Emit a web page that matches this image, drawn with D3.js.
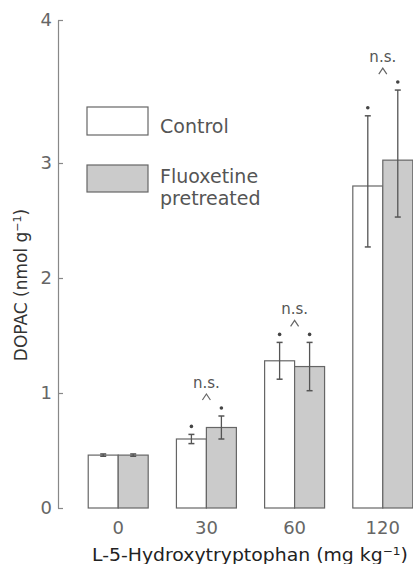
<!DOCTYPE html>
<meta charset="utf-8">
<script src="https://d3js.org/d3.v7.min.js"></script>
<style type="text/css">
  body { margin: 0; background: #fff; }
  text { font-family: "DejaVu Sans", sans-serif; fill: #555; }
</style>
<body>
<svg width="413" height="564"></svg>
<script>

    // values
    let doses = ["0", "30", "60", "120"],
        groups = ["control", "fluoxetine"],
        controlMean = [0.46, 0.60, 1.28, 2.80],
        controlSem = [0.01, 0.04, 0.16, 0.53],
        fluoxMean = [0.46, 0.70, 1.23, 3.02],
        fluoxSem = [0.01, 0.10, 0.21, 0.49],
        starred = [false, true, true, true],
        nsDoses = ["30", "60", "120"],
        yTicks = [0, 1, 2, 3, 4]

    let rows = []
    doses.forEach((d, i) => {
        rows.push({dose: d, group: 'control', mean: controlMean[i], sem: controlSem[i], star: starred[i]})
        rows.push({dose: d, group: 'fluoxetine', mean: fluoxMean[i], sem: fluoxSem[i], star: starred[i]})
    })

    let fills = {control: '#ffffff', fluoxetine: '#cbcbcb'}

    let svg = d3.select('svg')

    let x = d3.scaleBand().domain(doses).range([60, 441]).paddingInner(0.32).paddingOuter(0.32),
        xs = d3.scaleBand().domain(groups).range([0, x.bandwidth()]),
        // the printed axis is slightly stretched above 3
        y = d3.scaleLinear().domain([0, 3, 4]).range([508, 163, 20])

    let axisX = 58

    let yAxis = svg.append('g')
        .attr('transform', `translate(${axisX},0)`)
        .call(d3.axisLeft(y).tickValues(yTicks).tickSize(-5).tickSizeOuter(0).tickPadding(6).tickFormat(d3.format('d')))
    yAxis.select('.domain').attr('stroke', '#888').attr('stroke-width', 1.2)
    yAxis.selectAll('.tick line').attr('stroke', '#888').attr('stroke-width', 1.2)
    yAxis.selectAll('.tick text').style('font-size', '18px').style('fill', '#666')

    // bars
    svg.append('g').selectAll('rect').data(rows).enter().append('rect')
        .attr('x', d => x(d.dose) + xs(d.group))
        .attr('y', d => y(d.mean))
        .attr('width', xs.bandwidth())
        .attr('height', d => y(0) - y(d.mean))
        .attr('fill', d => fills[d.group])
        .attr('stroke', '#666')
        .attr('stroke-width', 1.2)

    // error bars
    let cx = d => x(d.dose) + xs(d.group) + xs.bandwidth() / 2
    let err = svg.append('g').selectAll('g').data(rows).enter().append('g')
    err.append('line')
        .attr('x1', cx).attr('x2', cx)
        .attr('y1', d => y(d.mean + d.sem)).attr('y2', d => y(d.mean - d.sem))
        .attr('stroke', '#555').attr('stroke-width', 1.3)
    err.append('line')
        .attr('x1', d => cx(d) - 3).attr('x2', d => cx(d) + 3)
        .attr('y1', d => y(d.mean + d.sem)).attr('y2', d => y(d.mean + d.sem))
        .attr('stroke', '#555').attr('stroke-width', 1.5)
    err.append('line')
        .attr('x1', d => cx(d) - 3).attr('x2', d => cx(d) + 3)
        .attr('y1', d => y(d.mean - d.sem)).attr('y2', d => y(d.mean - d.sem))
        .attr('stroke', '#555').attr('stroke-width', 1.5)
    err.filter(d => d.star).append('circle')
        .attr('cx', cx)
        .attr('cy', d => y(d.mean + d.sem) - 8)
        .attr('r', 1.8)
        .attr('fill', '#444')

    // n.s. marks
    let topOf = dose => d3.min(rows.filter(r => r.dose == dose), r => y(r.mean + r.sem) - 8)
    let ns = svg.append('g').selectAll('g').data(nsDoses).enter().append('g')
        .attr('transform', d => `translate(${x(d) + x.bandwidth() / 2},${topOf(d) - 8})`)
    ns.append('path')
        .attr('d', 'M-4,0L0,-6L4,0')
        .attr('fill', 'none').attr('stroke', '#666').attr('stroke-width', 1.2)
    ns.append('text')
        .attr('y', -12)
        .attr('text-anchor', 'middle')
        .style('font-size', '15px')
        .text('n.s.')

    // x tick labels
    svg.append('g').selectAll('text').data(doses).enter().append('text')
        .attr('x', d => x(d) + x.bandwidth() / 2)
        .attr('y', 534)
        .attr('text-anchor', 'middle')
        .style('font-size', '18px')
        .style('fill', '#666')
        .text(d => d)

    // axis titles
    let xt = svg.append('text')
        .attr('x', 250).attr('y', 561)
        .attr('text-anchor', 'middle')
        .attr('textLength', 316).attr('lengthAdjust', 'spacingAndGlyphs')
        .style('font-size', '17px').style('fill', '#222')
    xt.append('tspan').text('L-5-Hydroxytryptophan (mg kg')
    xt.append('tspan').attr('baseline-shift', 'super').style('font-size', '11px').text('−1')
    xt.append('tspan').text(')')

    let yt = svg.append('text')
        .attr('transform', 'translate(27,285) rotate(-90)')
        .attr('text-anchor', 'middle')
        .style('font-size', '17px').style('fill', '#333')
    yt.append('tspan').text('DOPAC  (nmol g')
    yt.append('tspan').attr('baseline-shift', 'super').style('font-size', '11px').text('−1')
    yt.append('tspan').text(')')

    // legend
    let legend = svg.append('g')
    legend.append('rect').attr('x', 87).attr('y', 107).attr('width', 61).attr('height', 28)
        .attr('fill', fills.control).attr('stroke', '#666').attr('stroke-width', 1.2)
    legend.append('rect').attr('x', 87).attr('y', 165).attr('width', 61).attr('height', 27)
        .attr('fill', fills.fluoxetine).attr('stroke', '#666').attr('stroke-width', 1.2)
    legend.append('text').attr('x', 160).attr('y', 133).style('font-size', '19px').text('Control')
    legend.append('text').attr('x', 160).attr('y', 183).style('font-size', '19px').text('Fluoxetine')
    legend.append('text').attr('x', 160).attr('y', 205).style('font-size', '19px').text('pretreated')

</script>
</body>
